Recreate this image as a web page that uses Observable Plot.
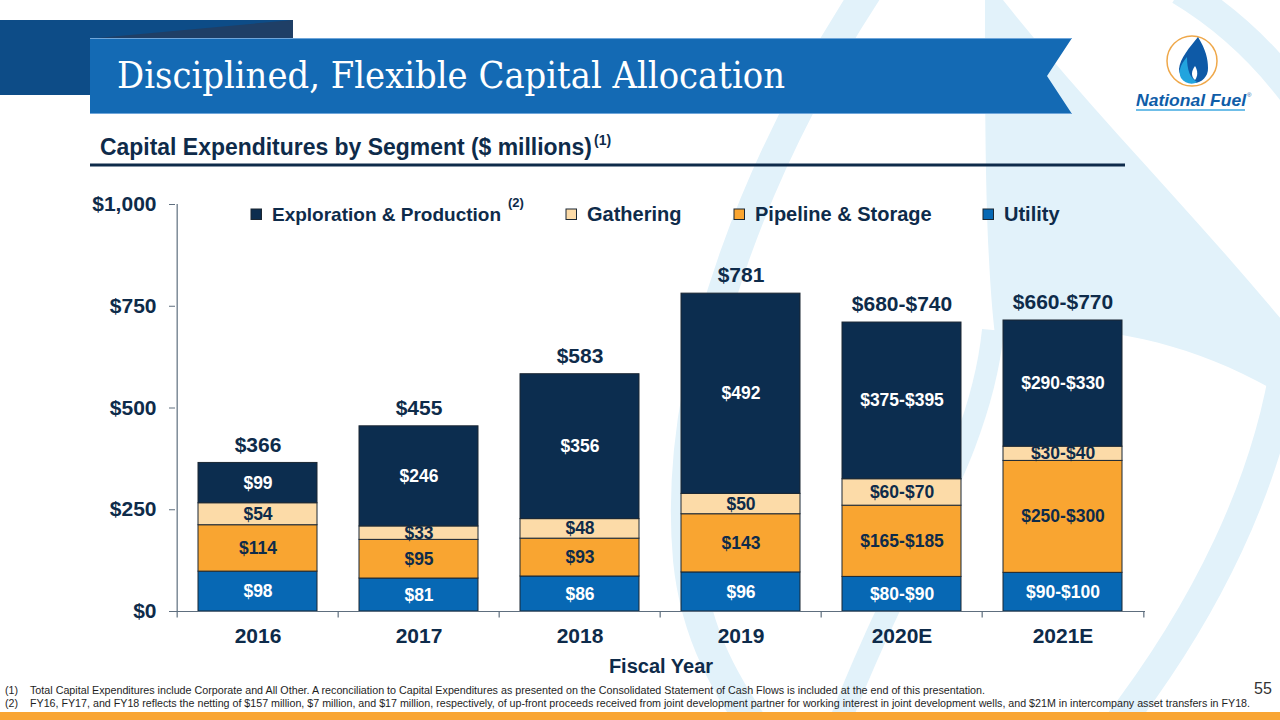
<!DOCTYPE html>
<html>
<head>
<meta charset="utf-8">
<script src="https://cdn.jsdelivr.net/npm/d3@7"></script>
<script src="https://cdn.jsdelivr.net/npm/@observablehq/plot@0.6"></script>
<style>
  html, body { margin: 0; padding: 0; background: #fff; }
  #slide { position: relative; width: 1280px; height: 720px; overflow: hidden; background: #fff; font-family: "Liberation Sans", Arial, sans-serif; }
  #bg, #chart, #overlay { position: absolute; left: 0; top: 0; }
  #chart { z-index: 1; }
  #overlay { z-index: 2; pointer-events: none; }
</style>
</head>
<body>
<div id="slide">
  <svg id="bg" width="1280" height="720">
    <g fill="none" stroke="#E2F2FA" stroke-width="30">
      <path d="M 868,-10 C 770,140 670,360 688,560 C 696,640 730,690 760,735"/>
      <path d="M 1180,-10 C 1230,20 1265,55 1295,95"/>
      <path d="M 1290,330 C 1275,480 1200,620 1110,735"/>
    </g>
    <path fill="#E2F2FA" d="M 985,0 L 1003,0 C 1090,110 1200,220 1290,330 L 1290,400 C 1180,330 1060,320 995,335 C 985,250 985,120 985,0 Z"/>
    <path fill="none" stroke="#E2F2FA" stroke-width="22" d="M 993,330 C 980,460 900,560 835,735"/>
    <!-- banner -->
    <rect x="0" y="20" width="293" height="75" fill="#0D4C87"/>
    <path d="M 97,38 L 293,20 L 293,38 Z" fill="#1F3F66"/>
    <path d="M 90,38 L 1072,38 L 1047,76 L 1072,114 L 90,114 Z" fill="#146AB4"/>
    <line x1="90" y1="38.5" x2="1072" y2="38.5" stroke="#6FA6DA" stroke-width="1"/>
    <line x1="90" y1="113.5" x2="1072" y2="113.5" stroke="#6FA6DA" stroke-width="1"/>
    <!-- bottom strip -->
    <rect x="0" y="712" width="1280" height="8" fill="#F9A533"/>
  </svg>
  <div id="chart"></div>
  <svg id="overlay" width="1280" height="720">
    <text x="117" y="88" font-family="'DejaVu Serif', serif" font-size="37" fill="#fff" textLength="668" lengthAdjust="spacingAndGlyphs">Disciplined, Flexible Capital Allocation</text>
    <!-- logo -->
    <circle cx="1192" cy="61" r="25" fill="#fff" stroke="#EFA84A" stroke-width="1.5"/>
    <path d="M 1198,37 C 1206,50 1208,59 1208,68 A 14.5 14.5 0 0 1 1179,69 C 1180,58 1190,47 1198,37 Z" fill="#0E5AA7"/>
    <path d="M 1187,57 C 1180,65 1178,72 1181,78 C 1185,84 1193,85 1197,82 C 1190,78 1187,70 1187,57 Z" fill="#22A4DE"/>
    <path d="M 1195,66 C 1191,71 1191,77 1195,80 C 1198,76 1198,71 1195,66 Z" fill="#fff"/>
    <text x="1136" y="106" font-family="'Liberation Sans', Arial, sans-serif" font-weight="bold" font-style="italic" font-size="17" fill="#0F5DA8" textLength="110" lengthAdjust="spacingAndGlyphs">National Fuel</text>
    <text x="1247" y="97" font-family="'Liberation Sans', Arial, sans-serif" font-size="6" fill="#0F5DA8">®</text>
    <line x1="1136" y1="110" x2="1245" y2="110" stroke="#3FA9E0" stroke-width="1.5"/>
    <!-- subtitle -->
    <text x="100" y="155" font-family="'Liberation Sans', Arial, sans-serif" font-weight="bold" font-size="23" fill="#0E2B4A" textLength="492" lengthAdjust="spacingAndGlyphs">Capital Expenditures by Segment ($ millions)</text>
    <text x="594" y="145" font-family="'Liberation Sans', Arial, sans-serif" font-weight="bold" font-size="14" fill="#0E2B4A">(1)</text>
    <line x1="90" y1="165" x2="1125" y2="165" stroke="#0E2B4A" stroke-width="3"/>
    <!-- legend -->
    <g id="legend" font-family="'Liberation Sans', Arial, sans-serif" font-weight="bold" font-size="20" fill="#0E2B4A"></g>
    <!-- axis title -->
    <text x="661" y="673" text-anchor="middle" font-family="'Liberation Sans', Arial, sans-serif" font-weight="bold" font-size="20" fill="#0E2B4A">Fiscal Year</text>
    <!-- footnotes -->
    <g font-family="'Liberation Sans', Arial, sans-serif" font-size="10.6" fill="#1E1E1E">
      <text x="5" y="694">(1)</text>
      <text x="30" y="694" textLength="955" lengthAdjust="spacingAndGlyphs">Total Capital Expenditures include Corporate and All Other. A reconciliation to Capital Expenditures as presented on the Consolidated Statement of Cash Flows is included at the end of this presentation.</text>
      <text x="5" y="707">(2)</text>
      <text x="30" y="707" textLength="1220" lengthAdjust="spacingAndGlyphs">FY16, FY17, and FY18 reflects the netting of $157 million, $7 million, and $17 million, respectively, of up-front proceeds received from joint development partner for working interest in joint development wells, and $21M in intercompany asset transfers in FY18.</text>
    </g>
    <text x="1254" y="694" font-family="'Liberation Sans', Arial, sans-serif" font-size="16" fill="#333">55</text>
  </svg>
</div>
<script>
// ---------- data ----------
const years = ["2016", "2017", "2018", "2019", "2020E", "2021E"];
const segments = ["Utility", "Pipeline & Storage", "Gathering", "Exploration & Production"];
const segmentColors = ["#0768B4", "#F9A531", "#FCDBA8", "#0C2D4F"];
const labelColors = ["#ffffff", "#0E2B4A", "#0E2B4A", "#ffffff"];

const utility = [98, 81, 86, 96, 85, 95];
const pipeline = [114, 95, 93, 143, 175, 275];
const gathering = [54, 33, 48, 50, 65, 35];
const exploration = [99, 246, 356, 492, 385, 310];

const utilityLabels = ["$98", "$81", "$86", "$96", "$80-$90", "$90-$100"];
const pipelineLabels = ["$114", "$95", "$93", "$143", "$165-$185", "$250-$300"];
const gatheringLabels = ["$54", "$33", "$48", "$50", "$60-$70", "$30-$40"];
const explorationLabels = ["$99", "$246", "$356", "$492", "$375-$395", "$290-$330"];
const totalLabels = ["$366", "$455", "$583", "$781", "$680-$740", "$660-$770"];

const yTicks = [0, 250, 500, 750, 1000];
const legendNames = ["Exploration & Production", "Gathering", "Pipeline & Storage", "Utility"];

// ---------- build tables ----------
const seriesValues = [utility, pipeline, gathering, exploration];
const seriesLabels = [utilityLabels, pipelineLabels, gatheringLabels, explorationLabels];
const rows = [];
segments.forEach((s, si) => {
  years.forEach((y, yi) => {
    rows.push({year: y, segment: s, value: seriesValues[si][yi], label: seriesLabels[si][yi], textColor: labelColors[si]});
  });
});
const totals = years.map((y, yi) => ({year: y, total: d3.sum(seriesValues, v => v[yi]), label: totalLabels[yi]}));

const NAVY = "#0E2B4A";
const AXIS = "#5E6E7E";
const W = 1280, H = 720, ML = 175, MR = 135, MT = 204, MB = 109;
const step = (W - ML - MR) / years.length;

const chart = Plot.plot({
  width: W, height: H,
  marginLeft: ML, marginRight: MR, marginTop: MT, marginBottom: MB,
  style: {background: "transparent", fontFamily: "'Liberation Sans', Arial, sans-serif", color: NAVY, overflow: "visible"},
  x: {domain: years, paddingInner: 0.26, paddingOuter: 0.13, label: null},
  y: {domain: [0, 1000], label: null},
  color: {domain: segments, range: segmentColors},
  marks: [
    Plot.barY(rows, {x: "year", y: "value", fill: "segment", stroke: "#1B2733", strokeWidth: 1}),
    Plot.text(rows, Plot.stackY({x: "year", y: "value", z: "segment", text: "label", fill: d => d.textColor, fontSize: 17.5, fontWeight: "bold"})),
    Plot.text(totals, {x: "year", y: "total", text: "label", dy: -18, fontSize: 21, fontWeight: "bold", fill: NAVY}),
    Plot.ruleY([0], {stroke: AXIS, strokeWidth: 1.2}),
    Plot.ruleX([years[0]], {x: d => d, dx: -step / 2, y1: 0, y2: 1000, stroke: AXIS, strokeWidth: 1.2}),
    Plot.ruleX(years, {x: d => d, dx: -step / 2, y1: 0, y2: -16, stroke: AXIS, strokeWidth: 1.2}),
    Plot.ruleX([years[years.length - 1]], {x: d => d, dx: step / 2, y1: 0, y2: -16, stroke: AXIS, strokeWidth: 1.2}),
    Plot.axisY({ticks: yTicks, tickFormat: d => "$" + d3.format(",")(d), tickSize: 6, tickPadding: 13, fontSize: 21, fontWeight: "bold", stroke: AXIS, fill: NAVY, label: null}),
    Plot.axisX({tickSize: 0, tickPadding: 17, fontSize: 21, fontWeight: "bold", fill: NAVY, label: null})
  ]
});
document.getElementById("chart").appendChild(chart);

// ---------- legend ----------
const legendPos = [[251, 272, 19], [566, 587, 20], [734, 755, 20], [983, 1004, 20]];
const legendColorOf = {"Exploration & Production": "#0C2D4F", "Gathering": "#FCDBA8", "Pipeline & Storage": "#F9A531", "Utility": "#0768B4"};
const lg = d3.select("#legend");
legendNames.forEach((name, i) => {
  const [sx, tx, fs] = legendPos[i];
  lg.append("rect").attr("x", sx).attr("y", 209).attr("width", 10.5).attr("height", 10.5)
    .attr("fill", legendColorOf[name]).attr("stroke", "#1B2733").attr("stroke-width", 1);
  lg.append("text").attr("x", tx).attr("y", 221).attr("font-size", fs).text(name);
});
lg.append("text").attr("x", 508).attr("y", 207).attr("font-size", 13).text("(2)");
</script>
</body>
</html>
